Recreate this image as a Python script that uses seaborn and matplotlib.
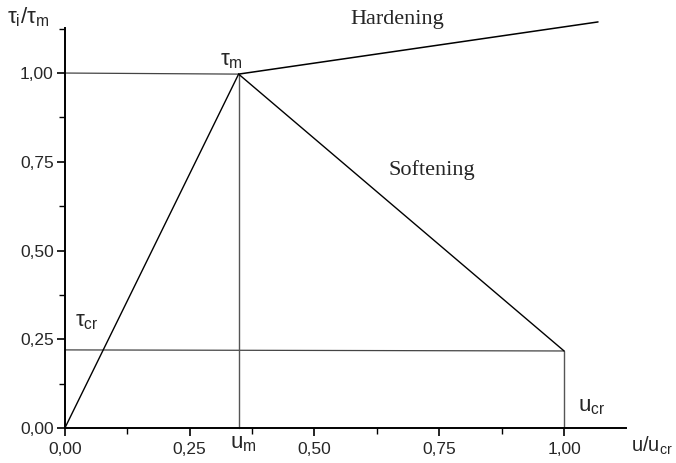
import numpy as np
import pandas as pd
import seaborn as sns
import matplotlib.pyplot as plt
from matplotlib.ticker import MultipleLocator, FuncFormatter

# bond-slip model: points
u_m = 0.348
u_cr = 1.0
tau_m = 0.997
tau_cr = 0.217

rise_u = [0.0, u_m]
rise_tau = [0.0, tau_m]
soft_u = [u_m, u_cr]
soft_tau = [tau_m, tau_cr]
hard_u = [u_m, 1.068]
hard_tau = [tau_m, 1.144]

# thin guide lines
guide_h1_u = [0.0, u_m]
guide_h1_tau = [1.0, tau_m]
guide_h2_u = [0.0, u_cr]
guide_h2_tau = [0.22, tau_cr]
guide_v1_u = [u_m, u_m]
guide_v1_tau = [0.0, tau_m]
guide_v2_u = [u_cr, u_cr]
guide_v2_tau = [0.0, tau_cr]

sns.set_style("ticks")
plt.rcParams['font.family'] = ['Liberation Sans', 'DejaVu Sans']

fig = plt.figure(figsize=(6.76, 4.63), dpi=100)
ax = fig.add_axes([0.096, 0.0756, 0.830, 0.864])

# estimator=None so the vertical guides are not averaged into a band
for u, t in [(guide_h1_u, guide_h1_tau), (guide_h2_u, guide_h2_tau)]:
    sns.lineplot(x=u, y=t, ax=ax, color='#444444', linewidth=0.9, sort=False, estimator=None)
for u, t in [(guide_v1_u, guide_v1_tau), (guide_v2_u, guide_v2_tau)]:
    sns.lineplot(x=u, y=t, ax=ax, color='#555555', linewidth=1.0, sort=False, estimator=None)

for u, t in [(rise_u, rise_tau), (soft_u, soft_tau)]:
    sns.lineplot(x=u, y=t, ax=ax, color='black', linewidth=1.0, sort=False, estimator=None)
sns.lineplot(x=hard_u, y=hard_tau, ax=ax, color='black', linewidth=1.1, sort=False, estimator=None)
for line in ax.lines:
    line.set_clip_on(False)

ax.set_xlim(0, 1.124)
ax.set_ylim(0, 1.127)
sns.despine(ax=ax)
for s in ['left', 'bottom']:
    ax.spines[s].set_linewidth(1.4)
    ax.spines[s].set_color('black')

ax.xaxis.set_major_locator(MultipleLocator(0.25))
ax.xaxis.set_minor_locator(MultipleLocator(0.125))
ax.yaxis.set_major_locator(MultipleLocator(0.25))
ax.yaxis.set_minor_locator(MultipleLocator(0.125))
fmt = FuncFormatter(lambda v, p: f"{v:.2f}".replace('.', ','))
ax.xaxis.set_major_formatter(fmt)
ax.yaxis.set_major_formatter(fmt)
ax.tick_params(which='major', direction='out', length=6, width=1.2, labelsize=12.5, color='black')
ax.tick_params(which='minor', direction='out', length=4, width=1.0, color='black')
ax.tick_params(axis='x', which='major', pad=4)
ax.tick_params(axis='y', which='major', pad=2)

# labels
ax.text(-0.116, 1.158, r'$\mathregular{\tau_i/\tau_m}$', fontsize=16, ha='left', va='center', clip_on=False)
ax.text(1.134, -0.05, r'$\mathregular{u/u_{cr}}$', fontsize=14.5, ha='left', va='center', clip_on=False)
ax.text(u_m - 0.015, 1.035, r'$\mathregular{\tau_m}$', fontsize=16, ha='center', va='center')
ax.text(0.02, 0.30, r'$\mathregular{\tau_{cr}}$', fontsize=16, ha='left', va='center')
ax.text(u_m + 0.01, -0.045, r'$\mathregular{u_m}$', fontsize=16, ha='center', va='center', clip_on=False)
ax.text(1.028, 0.06, r'$\mathregular{u_{cr}}$', fontsize=16, ha='left', va='center')
ax.text(0.571, 1.15, 'Hardening', fontsize=16, family='Liberation Serif', ha='left', va='center', clip_on=False)
ax.text(0.649, 0.727, 'Softening', fontsize=16, family='Liberation Serif', ha='left', va='center')

fig.savefig('out.png', dpi=100)
